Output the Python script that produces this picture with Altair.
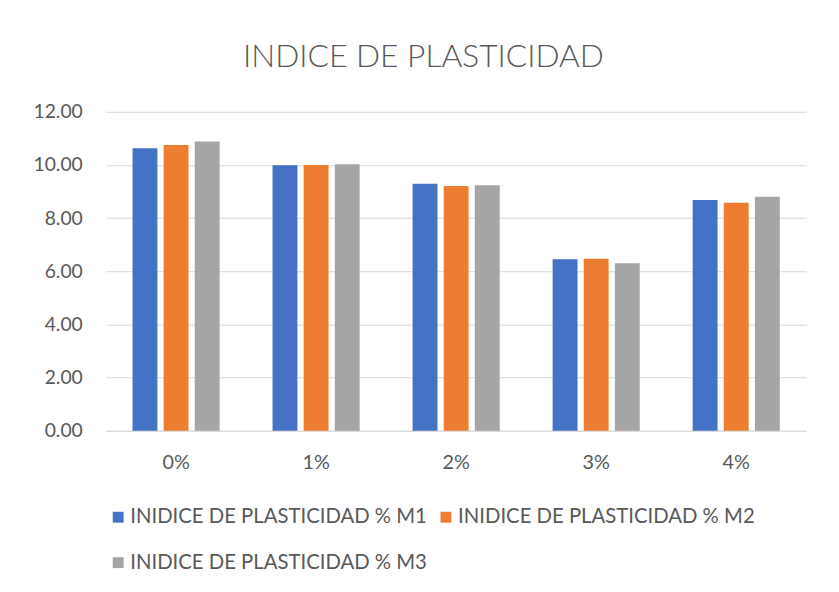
import altair as alt
import pandas as pd

categories = ["0%", "1%", "2%", "3%", "4%"]
series = ["INIDICE DE PLASTICIDAD % M1", "INIDICE DE PLASTICIDAD % M2", "INIDICE DE PLASTICIDAD % M3"]
m1 = [10.63, 9.99, 9.29, 6.45, 8.68]
m2 = [10.75, 10.00, 9.21, 6.47, 8.58]
m3 = [10.88, 10.03, 9.24, 6.30, 8.80]
colors = ["#4472C4", "#ED7D31", "#A5A5A5"]

rows = []
for name, vals in zip(series, [m1, m2, m3]):
    for c, v in zip(categories, vals):
        rows.append({"cat": c, "serie": name, "valor": v})
df = pd.DataFrame(rows)

FONT = "Lato"
GREY = "#595959"

chart = alt.Chart(df).mark_bar().encode(
    x=alt.X("cat:N", sort=categories, title=None,
            scale=alt.Scale(paddingInner=0.378, paddingOuter=0.189),
            axis=alt.Axis(labelAngle=0, labelFontSize=20, labelColor=GREY, labelFont=FONT,
                          labelPadding=22, ticks=False, domainColor="#d9d9d9", domainWidth=1)),
    xOffset=alt.XOffset("serie:N", sort=series,
                        scale=alt.Scale(paddingInner=0.2, paddingOuter=0)),
    y=alt.Y("valor:Q", title=None,
            scale=alt.Scale(domain=[0, 12]),
            axis=alt.Axis(values=[0, 2, 4, 6, 8, 10, 12], format=".2f", labelFontSize=19.5,
                          labelColor=GREY, labelFont=FONT, labelPadding=24, ticks=False,
                          domain=False, gridColor="#d9d9d9", gridWidth=1)),
    color=alt.Color("serie:N", sort=series,
                    scale=alt.Scale(domain=series, range=colors),
                    legend=alt.Legend(title=None, orient="none", legendX=2, legendY=399,
                                      columns=2, direction="horizontal",
                                      symbolType="square", symbolSize=121, symbolStrokeWidth=0,
                                      labelFontSize=20.5, labelColor=GREY, labelFont=FONT,
                                      labelOffset=2, rowPadding=25, columnPadding=8,
                                      labelLimit=400)),
).properties(
    width=707,
    height=322,
    title=alt.Title("INDICE DE PLASTICIDAD", fontSize=32, font=FONT, fontWeight=300,
                    color=GREY, anchor="middle", dx=-33, offset=28),
    autosize=alt.AutoSizeParams(type="none"),
    padding={"left": 99, "top": 102, "right": 25, "bottom": 150},
).configure_view(stroke=None)

chart.save("out.html", embed_options={"renderer": "svg", "actions": False})
